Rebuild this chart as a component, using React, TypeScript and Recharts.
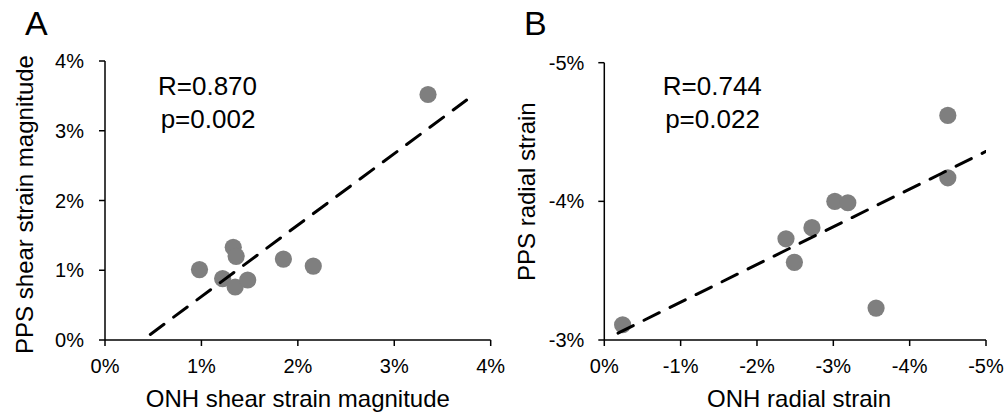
import React from 'react';
import { ScatterChart, Scatter, XAxis, YAxis, Label } from 'recharts';

// Panel A: ONH vs PPS shear strain magnitude (%)
const onhShearA = [3.35, 0.98, 1.33, 1.36, 1.22, 1.35, 1.48, 1.85, 2.16];
const ppsShearA = [3.52, 1.01, 1.33, 1.2, 0.88, 0.76, 0.86, 1.16, 1.06];
const trendAx = [0.47, 3.75];
const trendAy = [0.08, 3.44];
const ticksA = [0, 1, 2, 3, 4];

// Panel B: ONH vs PPS radial strain (%)
const onhRadialB = [-0.24, -2.38, -2.49, -2.72, -3.02, -3.19, -3.56, -4.5, -4.5];
const ppsRadialB = [-3.11, -3.73, -3.56, -3.81, -4.0, -3.99, -3.23, -4.62, -4.17];
const trendBx = [-0.18, -5.0];
const trendBy = [-3.05, -4.36];
const ticksBx = [0, -1, -2, -3, -4, -5];
const ticksBy = [-5, -4, -3];

const statsA = ['R=0.870', 'p=0.002'];
const statsB = ['R=0.744', 'p=0.022'];

const zip = (xs: number[], ys: number[]) => xs.map((x, i) => ({ x, y: ys[i] }));

const dataA = zip(onhShearA, ppsShearA);
const lineA = zip(trendAx, trendAy);
const dataB = zip(onhRadialB, ppsRadialB);
const lineB = zip(trendBx, trendBy);

const FONT = '"Liberation Sans", Arial, Helvetica, sans-serif';
const pct = (v: number) => `${v}%`;
const axisStroke = { stroke: '#000', strokeWidth: 1.5 };

const Dot = (p: any) => <circle cx={p.cx} cy={p.cy} r={8.6} fill="#7f7f7f" />;
const NoDot = () => <g />;

const makeYTitle = (text: string, dx: number, dy: number) => (props: any) => {
  const vb = props.viewBox || {};
  const x = vb.x + dx;
  const y = vb.y + vb.height / 2 + dy;
  return (
    <text x={x} y={y} transform={`rotate(-90 ${x} ${y})`} textAnchor="middle" fontSize={24} fontFamily={FONT} fill="#000">
      {text}
    </text>
  );
};

const makeXTitle = (text: string, dx: number, baseline: number) => (props: any) => {
  const vb = props.viewBox || {};
  const x = vb.x + vb.width / 2 + dx;
  const y = vb.y + baseline;
  return (
    <text x={x} y={y} textAnchor="middle" fontSize={24} fontFamily={FONT} fill="#000">
      {text}
    </text>
  );
};

export default function App() {
  const tickStyle = { fill: '#000', fontSize: 20, fontFamily: FONT };
  return (
    <div style={{ position: 'absolute', left: 0, top: 0, width: 1005, height: 412, background: '#fff', fontFamily: FONT }}>
      <div style={{ position: 'absolute', left: 0, top: 0 }}>
        <ScatterChart width={520} height={412} margin={{ top: 61, right: 29.3, left: 45, bottom: 0 }}>
          <XAxis
            type="number"
            dataKey="x"
            domain={[0, 4]}
            ticks={ticksA}
            tickFormatter={pct}
            tick={tickStyle}
            tickSize={6}
            tickMargin={13}
            axisLine={axisStroke}
            tickLine={axisStroke}
            height={72}
            allowDataOverflow
          >
            <Label content={makeXTitle('ONH shear strain magnitude', 0, 67)} />
          </XAxis>
          <YAxis
            type="number"
            dataKey="y"
            domain={[0, 4]}
            ticks={ticksA}
            tickFormatter={pct}
            tick={tickStyle}
            tickSize={6}
            tickMargin={15}
            axisLine={axisStroke}
            tickLine={axisStroke}
            width={60}
            allowDataOverflow
          >
            <Label content={makeYTitle('PPS shear strain magnitude', -11.7, 4)} />
          </YAxis>
          <Scatter data={dataA} shape={Dot} isAnimationActive={false} />
          <Scatter
            data={lineA}
            shape={NoDot}
            line={{ stroke: '#000', strokeWidth: 3, strokeDasharray: '17 12', strokeLinecap: 'round' }}
            isAnimationActive={false}
          />
        </ScatterChart>
      </div>
      <div style={{ position: 'absolute', left: 500, top: 0 }}>
        <ScatterChart width={505} height={412} margin={{ top: 62.7, right: 19, left: 44.3, bottom: 0 }}>
          <XAxis
            type="number"
            dataKey="x"
            domain={[-5, 0]}
            reversed
            ticks={ticksBx}
            tickFormatter={pct}
            tick={tickStyle}
            tickSize={6}
            tickMargin={13}
            axisLine={axisStroke}
            tickLine={axisStroke}
            height={72}
            allowDataOverflow
          >
            <Label content={makeXTitle('ONH radial strain', 4, 67)} />
          </XAxis>
          <YAxis
            type="number"
            dataKey="y"
            domain={[-5, -3]}
            reversed
            ticks={ticksBy}
            tickFormatter={pct}
            tick={tickStyle}
            tickSize={6}
            tickMargin={14}
            axisLine={axisStroke}
            tickLine={axisStroke}
            width={60}
            allowDataOverflow
          >
            <Label content={makeYTitle('PPS radial strain', -9.3, -9.7)} />
          </YAxis>
          <Scatter data={dataB} shape={Dot} isAnimationActive={false} />
          <Scatter
            data={lineB}
            shape={NoDot}
            line={{ stroke: '#000', strokeWidth: 3, strokeDasharray: '17 12', strokeLinecap: 'round' }}
            isAnimationActive={false}
          />
        </ScatterChart>
      </div>
      <svg width={1005} height={412} style={{ position: 'absolute', left: 0, top: 0, pointerEvents: 'none' }}>
        <text x={25} y={35} fontSize={34} fontFamily={FONT} fill="#000">A</text>
        <text x={524} y={35} fontSize={34} fontFamily={FONT} fill="#000">B</text>
        <text x={207.5} y={95} textAnchor="middle" fontSize={26} fontFamily={FONT} fill="#000">{statsA[0]}</text>
        <text x={208} y={127.5} textAnchor="middle" fontSize={26} fontFamily={FONT} fill="#000">{statsA[1]}</text>
        <text x={712.3} y={95} textAnchor="middle" fontSize={26} fontFamily={FONT} fill="#000">{statsB[0]}</text>
        <text x={712.5} y={127.5} textAnchor="middle" fontSize={26} fontFamily={FONT} fill="#000">{statsB[1]}</text>
      </svg>
    </div>
  );
}
